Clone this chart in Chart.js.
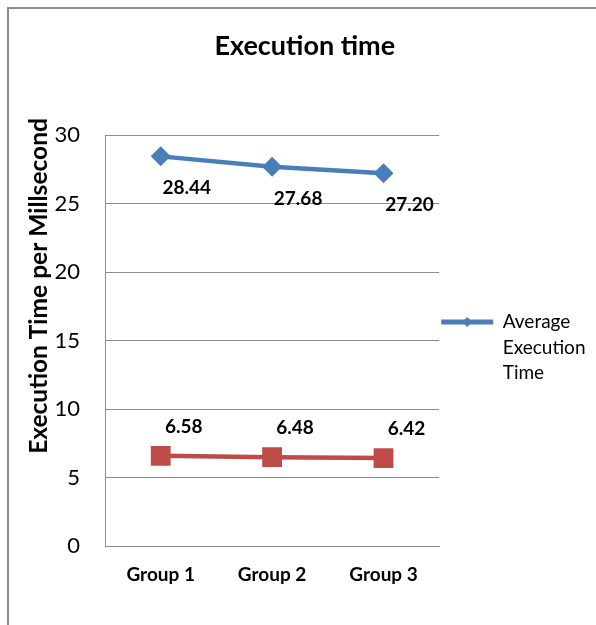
<!DOCTYPE html>
<html lang="en">
<head>
  <meta charset="UTF-8">
  <title>Execution time</title>
  <script src="https://cdn.jsdelivr.net/npm/chart.js"></script>
  <style>
    body { margin: 0; background: #fff; }
  </style>
</head>
<body>
  <canvas id="myChart" width="596" height="625"></canvas>
<script>
  // dados
  const grupos = ['Group 1', 'Group 2', 'Group 3'];
  const tempoMedio = [28.44, 27.68, 27.20];
  const tempoBaixo = [6.58, 6.48, 6.42];
  const tickMin = 0;
  const tickMax = 30;
  const tickPasso = 5;

  const azul = '#4a7ebb';
  const vermelho = '#be4b48';
  const cinza = '#8c8c8c';

  Chart.defaults.font.family = 'Lato';
  Chart.defaults.color = '#000';

  // moldura cinza + titulo do eixo y
  const molduraPlugin = {
    id: 'moldura',
    beforeDraw(chart) {
      const ctx = chart.ctx;
      ctx.save();
      ctx.fillStyle = '#fff';
      ctx.fillRect(0, 0, chart.width, chart.height);
      ctx.strokeStyle = cinza;
      ctx.lineWidth = 2;
      ctx.strokeRect(8, 8, chart.width + 20, chart.height + 20);
      ctx.restore();
    },
    afterDraw(chart) {
      const ctx = chart.ctx;
      ctx.save();
      ctx.translate(39, 286);
      ctx.rotate(-Math.PI / 2);
      ctx.font = 'bold 24.5px Lato';
      ctx.fillStyle = '#000';
      ctx.textAlign = 'center';
      ctx.textBaseline = 'middle';
      ctx.fillText('Execution Time per Millsecond', 0, 0);
      ctx.restore();

      // losango no simbolo da legenda
      const caixa = chart.legend.legendHitBoxes[0];
      if (caixa) {
        const cx = caixa.left + 26;
        const cy = caixa.top + 9.5;
        ctx.save();
        ctx.fillStyle = azul;
        ctx.beginPath();
        ctx.moveTo(cx, cy - 5);
        ctx.lineTo(cx + 5, cy);
        ctx.lineTo(cx, cy + 5);
        ctx.lineTo(cx - 5, cy);
        ctx.closePath();
        ctx.fill();
        ctx.restore();
      }
    }
  };

  // rotulos de valores perto dos pontos
  const rotulosPlugin = {
    id: 'rotulos',
    afterDatasetsDraw(chart) {
      const ctx = chart.ctx;
      const desloc = [[26, 32], [23, -29]];
      ctx.save();
      ctx.font = 'bold 19px Lato';
      ctx.fillStyle = '#000';
      ctx.textAlign = 'center';
      ctx.textBaseline = 'middle';
      chart.data.datasets.forEach((ds, i) => {
        const meta = chart.getDatasetMeta(i);
        meta.data.forEach((pt, j) => {
          ctx.fillText(ds.data[j].toFixed(2), pt.x + desloc[i][0], pt.y + desloc[i][1]);
        });
      });
      ctx.restore();
    }
  };

  const config = {
    type: 'line',
    data: {
      labels: grupos,
      datasets: [
        {
          label: 'Average Execution Time',
          data: tempoMedio,
          borderColor: azul,
          backgroundColor: azul,
          borderWidth: 4.5,
          pointStyle: 'rectRot',
          pointRadius: 10,
          pointBorderWidth: 0,
          tension: 0
        },
        {
          label: '',
          data: tempoBaixo,
          borderColor: vermelho,
          backgroundColor: vermelho,
          borderWidth: 4.5,
          pointStyle: 'rect',
          pointRadius: 14,
          pointBorderWidth: 0,
          tension: 0
        }
      ]
    },
    options: {
      responsive: false,
      animation: false,
      layout: { padding: { left: 14, right: 0.5, top: 0, bottom: 0 } },
      plugins: {
        title: {
          display: true,
          text: 'Execution time',
          color: '#000',
          font: { size: 27, weight: 'bold' },
          padding: { top: 30, bottom: 72.6 }
        },
        legend: {
          position: 'right',
          maxWidth: 200,
          title: { display: true, text: '', padding: { top: 64.4, bottom: 0 }, font: { size: 10 } },
          labels: {
            boxWidth: 52,
            boxHeight: 5,
            padding: 2,
            color: '#000',
            font: { size: 19, lineHeight: 1.34 },
            filter: (item) => item.datasetIndex === 0,
            generateLabels: (chart) => [{
              text: ['Average', 'Execution', 'Time'],
              fillStyle: azul,
              strokeStyle: azul,
              lineWidth: 0,
              datasetIndex: 0
            }]
          }
        },
        tooltip: { enabled: false }
      },
      scales: {
        x: {
          offset: true,
          grid: { display: false, drawTicks: false },
          border: { display: true, color: cinza, width: 1 },
          ticks: { font: { size: 19, weight: 'bold' }, padding: 17 },
          afterFit: (scale) => { scale.height = 79; }
        },
        y: {
          min: tickMin,
          max: tickMax,
          grid: { color: cinza, lineWidth: 1, drawTicks: false },
          border: { display: true, color: cinza, width: 1 },
          ticks: { stepSize: tickPasso, font: { size: 22 }, padding: 25 },
          afterFit: (scale) => { scale.width = 91; }
        }
      }
    },
    plugins: [molduraPlugin, rotulosPlugin]
  };

  const myChart = new Chart(document.getElementById('myChart'), config);
</script>
</body>
</html>
